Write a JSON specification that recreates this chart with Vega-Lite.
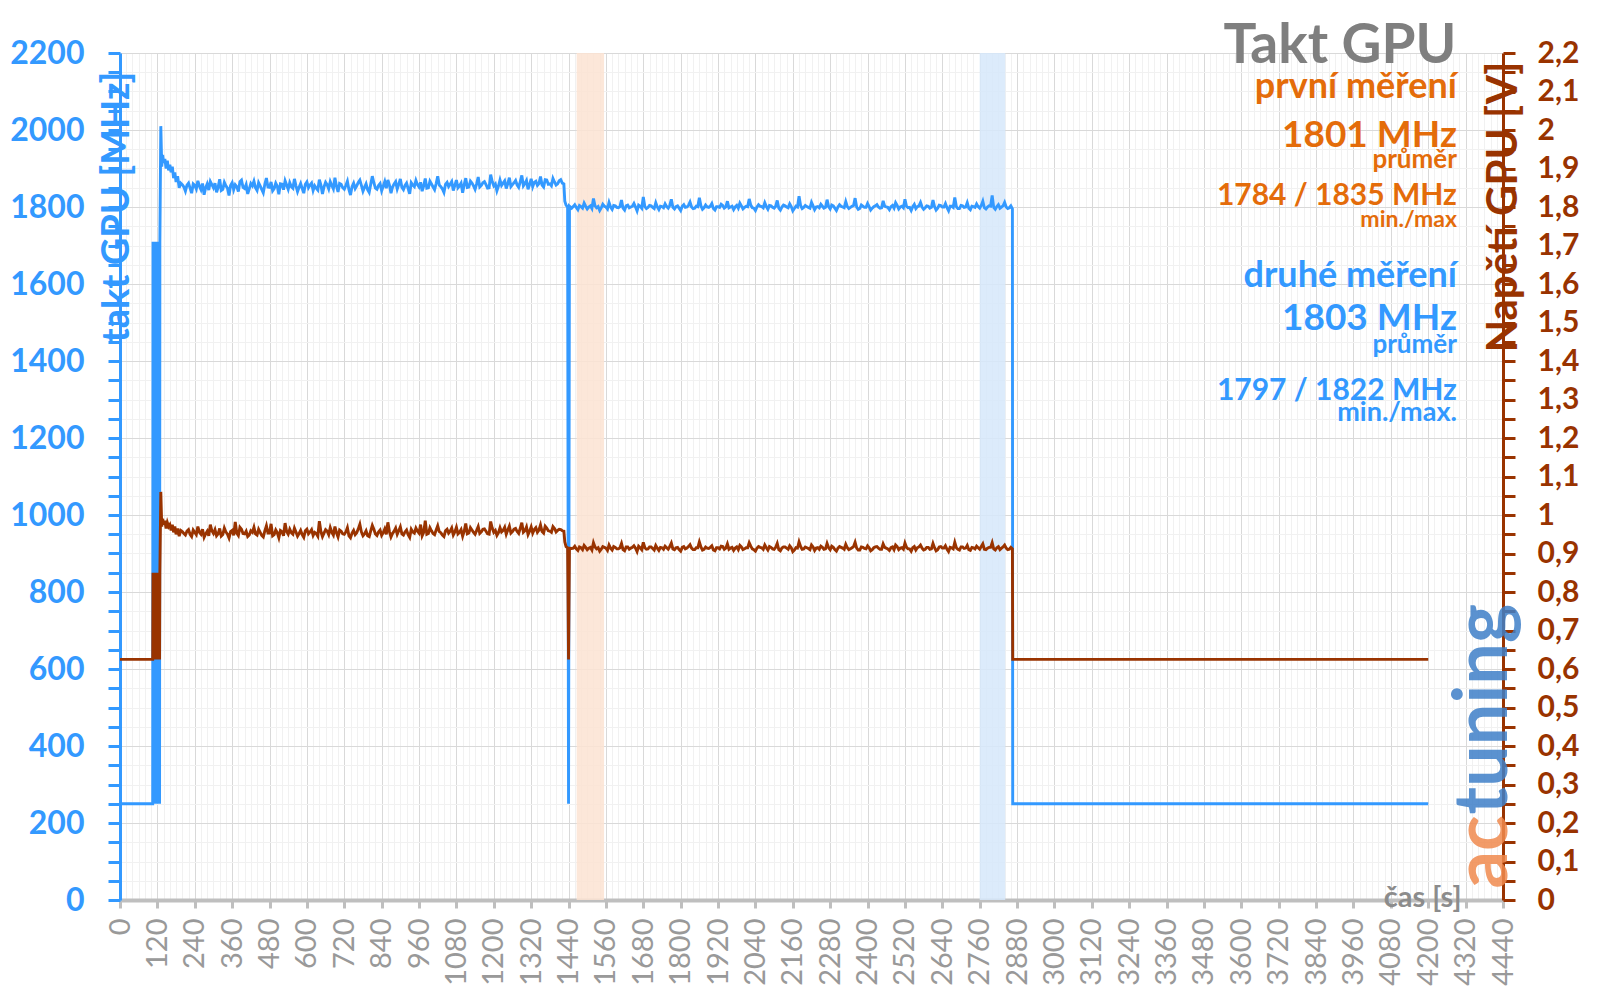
{
"$schema": "https://vega.github.io/schema/vega-lite/v6.json",
"width": 1383, "height": 847,
"autosize": {"type": "none"},
"padding": {"left": 120, "top": 53, "right": 97, "bottom": 99},
"background": "white",
"config": {"view": {"stroke": null}, "font": "Lato"},
"datasets": {
"m": [
{"t":0,"f":250,"v":0.625},{"t":105,"f":250,"v":0.625},
{"t":106,"f":1710,"v":0.85},{"t":107,"f":250,"v":0.625},{"t":108,"f":1710,"v":0.85},{"t":109,"f":250,"v":0.625},
{"t":110,"f":1710,"v":0.85},{"t":111,"f":250,"v":0.625},{"t":112,"f":1710,"v":0.85},{"t":113,"f":250,"v":0.625},
{"t":114,"f":1710,"v":0.85},{"t":115,"f":250,"v":0.625},{"t":116,"f":1710,"v":0.85},{"t":117,"f":250,"v":0.625},
{"t":118,"f":1710,"v":0.85},{"t":119,"f":250,"v":0.625},{"t":120,"f":1710,"v":0.85},{"t":121,"f":250,"v":0.625},
{"t":122,"f":1710,"v":0.85},{"t":123,"f":250,"v":0.625},{"t":124,"f":1710,"v":0.85},{"t":125,"f":250,"v":0.625},
{"t":126,"f":1710,"v":0.85},{"t":127,"f":250,"v":0.625},{"t":128,"f":1710,"v":0.85},
{"t":131,"f":2010,"v":1.06},{"t":134,"f":1905,"v":0.97},{"t":137,"f":1935,"v":0.99},{"t":140,"f":1915,"v":0.975},
{"t":144,"f":1925,"v":0.985},{"t":148,"f":1900,"v":0.965},{"t":152,"f":1920,"v":0.98},{"t":156,"f":1895,"v":0.97},
{"t":160,"f":1910,"v":0.975},{"t":164,"f":1890,"v":0.96},{"t":168,"f":1905,"v":0.975},{"t":172,"f":1875,"v":0.955},
{"t":176,"f":1890,"v":0.97},{"t":180,"f":1865,"v":0.95},{"t":185,"f":1880,"v":0.965},{"t":190,"f":1850,"v":0.945},
{"t":195,"f":1862,"v":0.96},
{"t":200,"f":1858,"v":0.957},{"t":210,"f":1841,"v":0.948},{"t":220,"f":1862,"v":0.962},{"t":230,"f":1836,"v":0.944},
{"t":240,"f":1856,"v":0.955},{"t":250,"f":1868,"v":0.970},{"t":260,"f":1845,"v":0.950},{"t":270,"f":1832,"v":0.942},
{"t":280,"f":1860,"v":0.958},{"t":290,"f":1866,"v":0.975},{"t":300,"f":1850,"v":0.952},{"t":310,"f":1838,"v":0.946},
{"t":320,"f":1872,"v":0.965},{"t":330,"f":1846,"v":0.949},{"t":340,"f":1855,"v":0.956},{"t":350,"f":1830,"v":0.940},
{"t":360,"f":1863,"v":0.960},{"t":370,"f":1858,"v":0.982},{"t":380,"f":1840,"v":0.947},{"t":390,"f":1870,"v":0.963},
{"t":400,"f":1848,"v":0.951},{"t":410,"f":1834,"v":0.944},{"t":420,"f":1861,"v":0.959},{"t":430,"f":1867,"v":0.968},
{"t":440,"f":1843,"v":0.948},{"t":450,"f":1855,"v":0.955},{"t":460,"f":1837,"v":0.943},{"t":470,"f":1875,"v":0.972},
{"t":480,"f":1851,"v":0.953},{"t":490,"f":1842,"v":0.946},{"t":500,"f":1862,"v":0.961},{"t":510,"f":1833,"v":0.941},
{"t":520,"f":1859,"v":0.957},{"t":530,"f":1868,"v":0.979},{"t":540,"f":1846,"v":0.950},{"t":550,"f":1853,"v":0.954},
{"t":560,"f":1873,"v":0.966},{"t":570,"f":1840,"v":0.945},{"t":580,"f":1861,"v":0.960},{"t":590,"f":1836,"v":0.942},
{"t":600,"f":1865,"v":0.963},{"t":610,"f":1857,"v":0.956},{"t":620,"f":1843,"v":0.947},{"t":630,"f":1849,"v":0.952},
{"t":640,"f":1871,"v":0.984},{"t":650,"f":1834,"v":0.944},{"t":660,"f":1864,"v":0.962},{"t":670,"f":1847,"v":0.949},
{"t":680,"f":1856,"v":0.955},{"t":690,"f":1876,"v":0.970},{"t":700,"f":1839,"v":0.943},{"t":710,"f":1859,"v":0.958},
{"t":720,"f":1846,"v":0.950},{"t":730,"f":1867,"v":0.967},{"t":740,"f":1831,"v":0.941},{"t":750,"f":1862,"v":0.960},
{"t":760,"f":1855,"v":0.954},{"t":770,"f":1870,"v":0.976},{"t":780,"f":1841,"v":0.946},{"t":790,"f":1860,"v":0.959},
{"t":800,"f":1838,"v":0.944},{"t":810,"f":1880,"v":0.973},{"t":820,"f":1849,"v":0.951},{"t":830,"f":1856,"v":0.956},
{"t":840,"f":1842,"v":0.947},{"t":850,"f":1866,"v":0.964},{"t":860,"f":1870,"v":0.981},{"t":870,"f":1836,"v":0.943},
{"t":880,"f":1860,"v":0.958},{"t":890,"f":1847,"v":0.950},{"t":900,"f":1873,"v":0.969},{"t":910,"f":1845,"v":0.948},
{"t":920,"f":1862,"v":0.961},{"t":930,"f":1834,"v":0.942},{"t":940,"f":1857,"v":0.956},{"t":950,"f":1869,"v":0.966},
{"t":960,"f":1852,"v":0.953},{"t":970,"f":1841,"v":0.946},{"t":980,"f":1874,"v":0.985},{"t":990,"f":1850,"v":0.952},
{"t":1000,"f":1860,"v":0.959},{"t":1010,"f":1845,"v":0.949},{"t":1020,"f":1880,"v":0.972},{"t":1030,"f":1853,"v":0.954},
{"t":1040,"f":1838,"v":0.944},{"t":1050,"f":1864,"v":0.963},{"t":1060,"f":1859,"v":0.958},{"t":1070,"f":1843,"v":0.948},
{"t":1080,"f":1870,"v":0.968},{"t":1090,"f":1855,"v":0.955},{"t":1100,"f":1837,"v":0.945},{"t":1110,"f":1875,"v":0.978},
{"t":1120,"f":1852,"v":0.953},{"t":1130,"f":1862,"v":0.961},{"t":1140,"f":1846,"v":0.950},{"t":1150,"f":1878,"v":0.970},
{"t":1160,"f":1856,"v":0.956},{"t":1170,"f":1866,"v":0.964},{"t":1180,"f":1849,"v":0.951},{"t":1190,"f":1884,"v":0.983},
{"t":1200,"f":1855,"v":0.955},{"t":1210,"f":1842,"v":0.947},{"t":1220,"f":1870,"v":0.967},{"t":1230,"f":1862,"v":0.960},
{"t":1240,"f":1848,"v":0.950},{"t":1250,"f":1876,"v":0.971},{"t":1260,"f":1858,"v":0.957},{"t":1270,"f":1869,"v":0.965},
{"t":1280,"f":1851,"v":0.952},{"t":1290,"f":1882,"v":0.980},{"t":1300,"f":1861,"v":0.959},{"t":1310,"f":1846,"v":0.949},
{"t":1320,"f":1873,"v":0.969},{"t":1330,"f":1864,"v":0.962},{"t":1340,"f":1856,"v":0.955},{"t":1350,"f":1879,"v":0.974},
{"t":1360,"f":1852,"v":0.953},{"t":1370,"f":1870,"v":0.966},{"t":1380,"f":1860,"v":0.958},{"t":1390,"f":1874,"v":0.970},
{"t":1400,"f":1857,"v":0.956},{"t":1410,"f":1868,"v":0.963},{"t":1420,"f":1862,"v":0.959},
{"t":1425,"f":1860,"v":0.958},{"t":1428,"f":1815,"v":0.930},{"t":1432,"f":1805,"v":0.918},{"t":1437,"f":1800,"v":0.915},
{"t":1440,"f":250,"v":0.625},{"t":1443,"f":1802,"v":0.914},
{"t":1450,"f":1797,"v":0.913},{"t":1460,"f":1806,"v":0.919},{"t":1470,"f":1793,"v":0.908},{"t":1480,"f":1801,"v":0.915},
{"t":1490,"f":1810,"v":0.921},{"t":1500,"f":1795,"v":0.910},{"t":1510,"f":1803,"v":0.916},{"t":1520,"f":1822,"v":0.928},
{"t":1530,"f":1798,"v":0.912},{"t":1540,"f":1791,"v":0.906},{"t":1550,"f":1807,"v":0.918},{"t":1560,"f":1800,"v":0.914},
{"t":1570,"f":1812,"v":0.922},{"t":1580,"f":1794,"v":0.909},{"t":1590,"f":1803,"v":0.916},{"t":1600,"f":1798,"v":0.912},
{"t":1610,"f":1818,"v":0.926},{"t":1620,"f":1792,"v":0.907},{"t":1630,"f":1805,"v":0.917},{"t":1640,"f":1800,"v":0.914},
{"t":1650,"f":1809,"v":0.920},{"t":1660,"f":1790,"v":0.905},{"t":1670,"f":1802,"v":0.915},{"t":1680,"f":1826,"v":0.929},
{"t":1690,"f":1796,"v":0.911},{"t":1700,"f":1804,"v":0.917},{"t":1710,"f":1799,"v":0.913},{"t":1720,"f":1811,"v":0.921},
{"t":1730,"f":1793,"v":0.908},{"t":1740,"f":1801,"v":0.915},{"t":1750,"f":1808,"v":0.919},{"t":1760,"f":1797,"v":0.911},
{"t":1770,"f":1820,"v":0.927},{"t":1780,"f":1795,"v":0.910},{"t":1790,"f":1803,"v":0.916},{"t":1800,"f":1791,"v":0.906},
{"t":1810,"f":1806,"v":0.918},{"t":1820,"f":1800,"v":0.914},{"t":1830,"f":1813,"v":0.923},{"t":1840,"f":1796,"v":0.910},
{"t":1850,"f":1802,"v":0.915},{"t":1860,"f":1824,"v":0.930},{"t":1870,"f":1794,"v":0.909},{"t":1880,"f":1805,"v":0.917},
{"t":1890,"f":1799,"v":0.913},{"t":1900,"f":1809,"v":0.920},{"t":1910,"f":1792,"v":0.907},{"t":1920,"f":1801,"v":0.915},
{"t":1930,"f":1807,"v":0.919},{"t":1940,"f":1797,"v":0.911},{"t":1950,"f":1815,"v":0.925},{"t":1960,"f":1800,"v":0.914},
{"t":1970,"f":1793,"v":0.908},{"t":1980,"f":1804,"v":0.917},{"t":1990,"f":1810,"v":0.921},{"t":2000,"f":1795,"v":0.910},
{"t":2010,"f":1802,"v":0.915},{"t":2020,"f":1821,"v":0.928},{"t":2030,"f":1798,"v":0.912},{"t":2040,"f":1791,"v":0.906},
{"t":2050,"f":1806,"v":0.918},{"t":2060,"f":1801,"v":0.915},{"t":2070,"f":1811,"v":0.922},{"t":2080,"f":1794,"v":0.909},
{"t":2090,"f":1803,"v":0.916},{"t":2100,"f":1797,"v":0.911},{"t":2110,"f":1817,"v":0.926},{"t":2120,"f":1792,"v":0.907},
{"t":2130,"f":1805,"v":0.917},{"t":2140,"f":1800,"v":0.914},{"t":2150,"f":1808,"v":0.920},{"t":2160,"f":1790,"v":0.905},
{"t":2170,"f":1802,"v":0.915},{"t":2180,"f":1828,"v":0.930},{"t":2190,"f":1796,"v":0.911},{"t":2200,"f":1804,"v":0.917},
{"t":2210,"f":1799,"v":0.913},{"t":2220,"f":1812,"v":0.922},{"t":2230,"f":1793,"v":0.908},{"t":2240,"f":1801,"v":0.915},
{"t":2250,"f":1807,"v":0.919},{"t":2260,"f":1797,"v":0.911},{"t":2270,"f":1819,"v":0.926},{"t":2280,"f":1795,"v":0.910},
{"t":2290,"f":1803,"v":0.916},{"t":2300,"f":1791,"v":0.906},{"t":2310,"f":1806,"v":0.918},{"t":2320,"f":1800,"v":0.914},
{"t":2330,"f":1814,"v":0.924},{"t":2340,"f":1796,"v":0.910},{"t":2350,"f":1802,"v":0.915},{"t":2360,"f":1823,"v":0.929},
{"t":2370,"f":1794,"v":0.909},{"t":2380,"f":1805,"v":0.917},{"t":2390,"f":1799,"v":0.913},{"t":2400,"f":1809,"v":0.920},
{"t":2410,"f":1792,"v":0.907},{"t":2420,"f":1801,"v":0.915},{"t":2430,"f":1806,"v":0.918},{"t":2440,"f":1797,"v":0.911},
{"t":2450,"f":1816,"v":0.925},{"t":2460,"f":1800,"v":0.914},{"t":2470,"f":1793,"v":0.908},{"t":2480,"f":1804,"v":0.917},
{"t":2490,"f":1811,"v":0.922},{"t":2500,"f":1795,"v":0.910},{"t":2510,"f":1802,"v":0.915},{"t":2520,"f":1820,"v":0.927},
{"t":2530,"f":1798,"v":0.912},{"t":2540,"f":1791,"v":0.906},{"t":2550,"f":1807,"v":0.918},{"t":2560,"f":1801,"v":0.915},
{"t":2570,"f":1812,"v":0.922},{"t":2580,"f":1794,"v":0.909},{"t":2590,"f":1803,"v":0.916},{"t":2600,"f":1797,"v":0.911},
{"t":2610,"f":1818,"v":0.926},{"t":2620,"f":1792,"v":0.907},{"t":2630,"f":1805,"v":0.917},{"t":2640,"f":1800,"v":0.914},
{"t":2650,"f":1809,"v":0.920},{"t":2660,"f":1790,"v":0.905},{"t":2670,"f":1802,"v":0.915},{"t":2680,"f":1825,"v":0.929},
{"t":2690,"f":1796,"v":0.911},{"t":2700,"f":1804,"v":0.917},{"t":2710,"f":1799,"v":0.913},{"t":2720,"f":1811,"v":0.921},
{"t":2730,"f":1793,"v":0.908},{"t":2740,"f":1801,"v":0.915},{"t":2750,"f":1808,"v":0.919},{"t":2760,"f":1797,"v":0.911},
{"t":2770,"f":1815,"v":0.925},{"t":2780,"f":1795,"v":0.910},{"t":2790,"f":1803,"v":0.916},{"t":2800,"f":1830,"v":0.928},
{"t":2810,"f":1794,"v":0.909},{"t":2820,"f":1806,"v":0.918},{"t":2830,"f":1800,"v":0.914},{"t":2840,"f":1812,"v":0.922},
{"t":2850,"f":1796,"v":0.910},{"t":2860,"f":1803,"v":0.916},
{"t":2865,"f":1795,"v":0.912},{"t":2866,"f":250,"v":0.625},{"t":4200,"f":250,"v":0.625},
{"t":205,"f":1852,"v":0.952},{"t":215,"f":1857,"v":0.958},{"t":225,"f":1849,"v":0.950},{"t":235,"f":1860,"v":0.961},{"t":245,"f":1847,"v":0.949},
{"t":255,"f":1854,"v":0.955},{"t":265,"f":1861,"v":0.963},{"t":275,"f":1850,"v":0.951},{"t":285,"f":1844,"v":0.946},{"t":295,"f":1858,"v":0.959},
{"t":305,"f":1862,"v":0.962},{"t":315,"f":1851,"v":0.951},{"t":325,"f":1843,"v":0.945},{"t":335,"f":1864,"v":0.966},{"t":345,"f":1849,"v":0.950},
{"t":355,"f":1856,"v":0.957},{"t":365,"f":1845,"v":0.947},{"t":375,"f":1853,"v":0.953},{"t":385,"f":1866,"v":0.968},{"t":395,"f":1851,"v":0.952},
{"t":405,"f":1858,"v":0.958},{"t":415,"f":1847,"v":0.948},{"t":425,"f":1855,"v":0.955},{"t":435,"f":1850,"v":0.951},{"t":445,"f":1863,"v":0.963},
{"t":455,"f":1846,"v":0.947},{"t":465,"f":1859,"v":0.959},{"t":475,"f":1852,"v":0.953},{"t":485,"f":1865,"v":0.977},{"t":495,"f":1848,"v":0.949},
{"t":505,"f":1854,"v":0.954},{"t":515,"f":1860,"v":0.960},{"t":525,"f":1845,"v":0.946},{"t":535,"f":1857,"v":0.957},{"t":545,"f":1863,"v":0.963},
{"t":555,"f":1849,"v":0.950},{"t":565,"f":1855,"v":0.956},{"t":575,"f":1851,"v":0.952},{"t":585,"f":1848,"v":0.949},{"t":595,"f":1859,"v":0.959},
{"t":605,"f":1850,"v":0.951},{"t":615,"f":1862,"v":0.962},{"t":625,"f":1855,"v":0.955},{"t":635,"f":1844,"v":0.945},{"t":645,"f":1857,"v":0.957},
{"t":655,"f":1852,"v":0.953},{"t":665,"f":1858,"v":0.958},{"t":675,"f":1866,"v":0.967},{"t":685,"f":1847,"v":0.948},{"t":695,"f":1854,"v":0.954},
{"t":705,"f":1861,"v":0.961},{"t":715,"f":1850,"v":0.951},{"t":725,"f":1856,"v":0.956},{"t":735,"f":1845,"v":0.946},{"t":745,"f":1853,"v":0.953},
{"t":755,"f":1848,"v":0.949},{"t":765,"f":1864,"v":0.964},{"t":775,"f":1856,"v":0.956},{"t":785,"f":1851,"v":0.951},{"t":795,"f":1845,"v":0.946},
{"t":805,"f":1859,"v":0.959},{"t":815,"f":1863,"v":0.963},{"t":825,"f":1846,"v":0.947},{"t":835,"f":1861,"v":0.961},{"t":845,"f":1854,"v":0.954},
{"t":855,"f":1849,"v":0.950},{"t":865,"f":1857,"v":0.957},{"t":875,"f":1852,"v":0.952},{"t":885,"f":1866,"v":0.966},{"t":895,"f":1859,"v":0.959},
{"t":905,"f":1851,"v":0.951},{"t":915,"f":1856,"v":0.956},{"t":925,"f":1848,"v":0.949},{"t":935,"f":1863,"v":0.963},{"t":945,"f":1853,"v":0.953},
{"t":955,"f":1858,"v":0.958},{"t":965,"f":1864,"v":0.975},{"t":975,"f":1855,"v":0.955},{"t":985,"f":1849,"v":0.950},{"t":995,"f":1867,"v":0.967},
{"t":1005,"f":1852,"v":0.952},{"t":1015,"f":1861,"v":0.961},{"t":1025,"f":1857,"v":0.957},{"t":1035,"f":1847,"v":0.948},{"t":1045,"f":1859,"v":0.959},
{"t":1055,"f":1853,"v":0.953},{"t":1065,"f":1866,"v":0.966},{"t":1075,"f":1856,"v":0.956},{"t":1085,"f":1850,"v":0.951},{"t":1095,"f":1862,"v":0.962},
{"t":1105,"f":1858,"v":0.958},{"t":1115,"f":1851,"v":0.951},{"t":1125,"f":1867,"v":0.967},{"t":1135,"f":1855,"v":0.955},{"t":1145,"f":1860,"v":0.960},
{"t":1155,"f":1852,"v":0.952},{"t":1165,"f":1863,"v":0.963},{"t":1175,"f":1858,"v":0.958},{"t":1185,"f":1850,"v":0.950},{"t":1195,"f":1866,"v":0.966},
{"t":1205,"f":1860,"v":0.960},{"t":1215,"f":1854,"v":0.954},{"t":1225,"f":1856,"v":0.956},{"t":1235,"f":1868,"v":0.968},{"t":1245,"f":1861,"v":0.961},
{"t":1255,"f":1853,"v":0.953},{"t":1265,"f":1863,"v":0.963},{"t":1275,"f":1857,"v":0.957},{"t":1285,"f":1866,"v":0.966},{"t":1295,"f":1855,"v":0.955},
{"t":1305,"f":1869,"v":0.969},{"t":1315,"f":1858,"v":0.958},{"t":1325,"f":1853,"v":0.953},{"t":1335,"f":1867,"v":0.967},{"t":1345,"f":1861,"v":0.961},
{"t":1355,"f":1857,"v":0.957},{"t":1365,"f":1871,"v":0.971},{"t":1375,"f":1859,"v":0.959},{"t":1385,"f":1855,"v":0.955},{"t":1395,"f":1865,"v":0.965},
{"t":1405,"f":1860,"v":0.960},{"t":1415,"f":1871,"v":0.962},
{"t":1455,"f":1801,"v":0.914},{"t":1465,"f":1799,"v":0.912},{"t":1475,"f":1804,"v":0.917},{"t":1485,"f":1797,"v":0.910},{"t":1495,"f":1802,"v":0.916},
{"t":1505,"f":1800,"v":0.914},{"t":1515,"f":1796,"v":0.909},{"t":1525,"f":1803,"v":0.917},{"t":1535,"f":1801,"v":0.915},{"t":1545,"f":1798,"v":0.911},
{"t":1555,"f":1802,"v":0.916},{"t":1565,"f":1795,"v":0.908},{"t":1575,"f":1800,"v":0.914},{"t":1585,"f":1804,"v":0.918},{"t":1595,"f":1799,"v":0.912},
{"t":1605,"f":1801,"v":0.915},{"t":1615,"f":1797,"v":0.910},{"t":1625,"f":1803,"v":0.917},{"t":1635,"f":1798,"v":0.911},{"t":1645,"f":1802,"v":0.916},
{"t":1655,"f":1800,"v":0.914},{"t":1665,"f":1805,"v":0.919},{"t":1675,"f":1797,"v":0.910},{"t":1685,"f":1801,"v":0.915},{"t":1695,"f":1799,"v":0.912},
{"t":1705,"f":1803,"v":0.917},{"t":1715,"f":1796,"v":0.909},{"t":1725,"f":1800,"v":0.914},{"t":1735,"f":1802,"v":0.916},{"t":1745,"f":1798,"v":0.911},
{"t":1755,"f":1801,"v":0.915},{"t":1765,"f":1804,"v":0.918},{"t":1775,"f":1799,"v":0.912},{"t":1785,"f":1801,"v":0.915},{"t":1795,"f":1797,"v":0.910},
{"t":1805,"f":1802,"v":0.916},{"t":1815,"f":1799,"v":0.912},{"t":1825,"f":1804,"v":0.918},{"t":1835,"f":1800,"v":0.914},{"t":1845,"f":1797,"v":0.910},
{"t":1855,"f":1801,"v":0.915},{"t":1865,"f":1803,"v":0.917},{"t":1875,"f":1798,"v":0.911},{"t":1885,"f":1800,"v":0.914},{"t":1895,"f":1802,"v":0.916},
{"t":1905,"f":1796,"v":0.909},{"t":1915,"f":1801,"v":0.915},{"t":1925,"f":1799,"v":0.912},{"t":1935,"f":1804,"v":0.918},{"t":1945,"f":1800,"v":0.914},
{"t":1955,"f":1798,"v":0.911},{"t":1965,"f":1802,"v":0.916},{"t":1975,"f":1800,"v":0.914},{"t":1985,"f":1797,"v":0.910},{"t":1995,"f":1803,"v":0.917},
{"t":2005,"f":1799,"v":0.912},{"t":2015,"f":1801,"v":0.915},{"t":2025,"f":1805,"v":0.919},{"t":2035,"f":1797,"v":0.910},{"t":2045,"f":1800,"v":0.914},
{"t":2055,"f":1802,"v":0.916},{"t":2065,"f":1798,"v":0.911},{"t":2075,"f":1801,"v":0.915},{"t":2085,"f":1804,"v":0.918},{"t":2095,"f":1799,"v":0.912},
{"t":2105,"f":1802,"v":0.916},{"t":2115,"f":1797,"v":0.910},{"t":2125,"f":1800,"v":0.914},{"t":2135,"f":1803,"v":0.917},{"t":2145,"f":1798,"v":0.911},
{"t":2155,"f":1801,"v":0.915},{"t":2165,"f":1796,"v":0.909},{"t":2175,"f":1800,"v":0.914},{"t":2185,"f":1804,"v":0.918},{"t":2195,"f":1799,"v":0.912},
{"t":2205,"f":1801,"v":0.915},{"t":2215,"f":1797,"v":0.910},{"t":2225,"f":1803,"v":0.917},{"t":2235,"f":1800,"v":0.914},{"t":2245,"f":1798,"v":0.911},
{"t":2255,"f":1802,"v":0.916},{"t":2265,"f":1799,"v":0.912},{"t":2275,"f":1801,"v":0.915},{"t":2285,"f":1805,"v":0.919},{"t":2295,"f":1797,"v":0.910},
{"t":2305,"f":1800,"v":0.914},{"t":2315,"f":1802,"v":0.916},{"t":2325,"f":1798,"v":0.911},{"t":2335,"f":1801,"v":0.915},{"t":2345,"f":1799,"v":0.912},
{"t":2355,"f":1804,"v":0.918},{"t":2365,"f":1800,"v":0.914},{"t":2375,"f":1796,"v":0.909},{"t":2385,"f":1802,"v":0.916},{"t":2395,"f":1799,"v":0.912},
{"t":2405,"f":1801,"v":0.915},{"t":2415,"f":1797,"v":0.910},{"t":2425,"f":1803,"v":0.917},{"t":2435,"f":1800,"v":0.914},{"t":2445,"f":1798,"v":0.911},
{"t":2455,"f":1802,"v":0.916},{"t":2465,"f":1799,"v":0.912},{"t":2475,"f":1801,"v":0.915},{"t":2485,"f":1797,"v":0.910},{"t":2495,"f":1804,"v":0.918},
{"t":2505,"f":1800,"v":0.914},{"t":2515,"f":1798,"v":0.911},{"t":2525,"f":1802,"v":0.916},{"t":2535,"f":1799,"v":0.912},{"t":2545,"f":1801,"v":0.915},
{"t":2555,"f":1796,"v":0.909},{"t":2565,"f":1803,"v":0.917},{"t":2575,"f":1800,"v":0.914},{"t":2585,"f":1798,"v":0.911},{"t":2595,"f":1802,"v":0.916},
{"t":2605,"f":1799,"v":0.912},{"t":2615,"f":1801,"v":0.915},{"t":2625,"f":1797,"v":0.910},{"t":2635,"f":1804,"v":0.918},{"t":2645,"f":1800,"v":0.914},
{"t":2655,"f":1798,"v":0.911},{"t":2665,"f":1802,"v":0.916},{"t":2675,"f":1799,"v":0.912},{"t":2685,"f":1801,"v":0.915},{"t":2695,"f":1796,"v":0.909},
{"t":2705,"f":1803,"v":0.917},{"t":2715,"f":1800,"v":0.914},{"t":2725,"f":1797,"v":0.910},{"t":2735,"f":1802,"v":0.916},{"t":2745,"f":1799,"v":0.912},
{"t":2755,"f":1801,"v":0.915},{"t":2765,"f":1804,"v":0.918},{"t":2775,"f":1798,"v":0.911},{"t":2785,"f":1800,"v":0.914},{"t":2795,"f":1802,"v":0.916},
{"t":2805,"f":1799,"v":0.912},{"t":2815,"f":1801,"v":0.915},{"t":2825,"f":1797,"v":0.910},{"t":2835,"f":1803,"v":0.917},{"t":2845,"f":1800,"v":0.914},
{"t":2855,"f":1798,"v":0.911}
]
},
"layer": [
{
"layer": [
{
"data": {"values": [{"s":1466,"e":1554,"m":"první"},{"s":2760,"e":2842,"m":"druhé"}]},
"mark": {"type": "rect", "opacity": 0.85},
"encoding": {
"x": {"field": "s", "type": "quantitative", "scale": {"domain": [0,4440], "nice": false}},
"x2": {"field": "e"},
"color": {"field": "m", "type": "nominal", "scale": {"domain": ["první","druhé"], "range": ["#FBE3D2","#D6E7FA"]}, "legend": null}
}
},
{
"data": {"name": "m"},
"mark": {"type": "line", "color": "#3399FF", "strokeWidth": 2.9},
"encoding": {
"x": {"field": "t", "type": "quantitative", "scale": {"domain": [0,4440], "nice": false},
"axis": {"tickCount": 222, "format": "d", "labelExpr": "datum.value % 120 === 0 ? datum.label : ''",
"labelAngle": 270, "labelAlign": "right", "labelBaseline": "middle", "labelFont": "Lato", "labelFontSize": 29,
"labelColor": "#999999", "labelPadding": 10, "labelOverlap": false, "labelFlush": false,
"tickSize": 8, "tickWidth": 3, "tickColor": "#BFBFBF",
"tickOpacity": {"condition": {"test": "datum.value % 120 === 0", "value": 1}, "value": 0},
"domainColor": "#BFBFBF", "domainWidth": 4,
"grid": true, "gridWidth": 1,
"gridColor": {"condition": {"test": "datum.value % 120 === 0", "value": "#D9D9D9"}, "value": "#F1F1F1"},
"title": "čas [s]", "titleFont": "Lato", "titleFontSize": 29, "titleFontWeight": "bold", "titleColor": "#8C8C8C",
"titleAlign": "right", "titleBaseline": "alphabetic", "titleAngle": 0, "titleX": 1341, "titleY": 6}},
"y": {"field": "f", "type": "quantitative", "scale": {"domain": [0,2200], "nice": false},
"axis": {"tickCount": 44, "format": "d", "labelExpr": "datum.value % 200 === 0 ? datum.label : ''",
"labelFont": "Lato", "labelFontWeight": "bold", "labelFontSize": 32, "labelColor": "#3399FF", "labelPadding": 24,
"labelOverlap": false, "labelBaseline": "middle",
"tickSize": 12, "tickWidth": 3, "tickColor": "#3399FF", "domainColor": "#3399FF", "domainWidth": 3,
"grid": true, "gridWidth": 1,
"gridColor": {"condition": {"test": "datum.value % 200 === 0", "value": "#D9D9D9"}, "value": "#F1F1F1"},
"title": "takt GPU [MHz]", "titleFont": "Lato", "titleFontSize": 38, "titleFontWeight": "bold", "titleColor": "#3399FF",
"titleAngle": 270, "titleAlign": "right", "titleBaseline": "alphabetic", "titleX": 8, "titleY": 18}}
}
},
{
"data": {"values": [{"label":"ac","t":4452,"y":30}]},
"mark": {"type": "text", "align": "left", "baseline": "alphabetic", "angle": 270, "font": "Lato", "fontWeight": "bold", "fontSize": 74, "color": "#F08A4E", "opacity": 0.85},
"encoding": {"x": {"field": "t", "type": "quantitative", "scale": {"domain": [0,4440], "nice": false}}, "y": {"field": "y", "type": "quantitative", "scale": {"domain": [0,2200], "nice": false}}, "text": {"field": "label"}}
},
{
"data": {"values": [{"label":"tuning","t":4452,"y":222}]},
"mark": {"type": "text", "align": "left", "baseline": "alphabetic", "angle": 270, "font": "Lato", "fontWeight": "bold", "fontSize": 74, "color": "#3F80C8", "opacity": 0.85},
"encoding": {"x": {"field": "t", "type": "quantitative", "scale": {"domain": [0,4440], "nice": false}}, "y": {"field": "y", "type": "quantitative", "scale": {"domain": [0,2200], "nice": false}}, "text": {"field": "label"}}
},
{
"data": {"values": [{"label":"Takt GPU","t":4290,"y":2173}]},
"mark": {"type": "text", "align": "right", "baseline": "alphabetic", "font": "Lato", "fontWeight": "bold", "fontSize": 55, "color": "#7F7F7F"},
"encoding": {"x": {"field": "t", "type": "quantitative", "scale": {"domain": [0,4440], "nice": false}}, "y": {"field": "y", "type": "quantitative", "scale": {"domain": [0,2200], "nice": false}}, "text": {"field": "label"}}
},
{
"data": {"values": [{"label":"první měření","t":4292,"y":2083}]},
"mark": {"type": "text", "align": "right", "baseline": "alphabetic", "font": "Lato", "fontWeight": "bold", "fontSize": 36, "color": "#E46C0A"},
"encoding": {"x": {"field": "t", "type": "quantitative", "scale": {"domain": [0,4440], "nice": false}}, "y": {"field": "y", "type": "quantitative", "scale": {"domain": [0,2200], "nice": false}}, "text": {"field": "label"}}
},
{
"data": {"values": [{"label":"1801 MHz","t":4292,"y":1956}]},
"mark": {"type": "text", "align": "right", "baseline": "alphabetic", "font": "Lato", "fontWeight": "bold", "fontSize": 37, "color": "#E46C0A"},
"encoding": {"x": {"field": "t", "type": "quantitative", "scale": {"domain": [0,4440], "nice": false}}, "y": {"field": "y", "type": "quantitative", "scale": {"domain": [0,2200], "nice": false}}, "text": {"field": "label"}}
},
{
"data": {"values": [{"label":"průměr","t":4292,"y":1902}]},
"mark": {"type": "text", "align": "right", "baseline": "alphabetic", "font": "Lato", "fontWeight": "bold", "fontSize": 26, "color": "#E46C0A"},
"encoding": {"x": {"field": "t", "type": "quantitative", "scale": {"domain": [0,4440], "nice": false}}, "y": {"field": "y", "type": "quantitative", "scale": {"domain": [0,2200], "nice": false}}, "text": {"field": "label"}}
},
{
"data": {"values": [{"label":"min./max","t":4292,"y":1748}]},
"mark": {"type": "text", "align": "right", "baseline": "alphabetic", "font": "Lato", "fontWeight": "bold", "fontSize": 23, "color": "#E46C0A"},
"encoding": {"x": {"field": "t", "type": "quantitative", "scale": {"domain": [0,4440], "nice": false}}, "y": {"field": "y", "type": "quantitative", "scale": {"domain": [0,2200], "nice": false}}, "text": {"field": "label"}}
},
{
"data": {"values": [{"label":"1784 / 1835 MHz","t":4292,"y":1805}]},
"mark": {"type": "text", "align": "right", "baseline": "alphabetic", "font": "Lato", "fontWeight": "bold", "fontSize": 30, "color": "#E46C0A"},
"encoding": {"x": {"field": "t", "type": "quantitative", "scale": {"domain": [0,4440], "nice": false}}, "y": {"field": "y", "type": "quantitative", "scale": {"domain": [0,2200], "nice": false}}, "text": {"field": "label"}}
},
{
"data": {"values": [{"label":"druhé měření","t":4292,"y":1592}]},
"mark": {"type": "text", "align": "right", "baseline": "alphabetic", "font": "Lato", "fontWeight": "bold", "fontSize": 36, "color": "#3399FF"},
"encoding": {"x": {"field": "t", "type": "quantitative", "scale": {"domain": [0,4440], "nice": false}}, "y": {"field": "y", "type": "quantitative", "scale": {"domain": [0,2200], "nice": false}}, "text": {"field": "label"}}
},
{
"data": {"values": [{"label":"1803 MHz","t":4292,"y":1481}]},
"mark": {"type": "text", "align": "right", "baseline": "alphabetic", "font": "Lato", "fontWeight": "bold", "fontSize": 37, "color": "#3399FF"},
"encoding": {"x": {"field": "t", "type": "quantitative", "scale": {"domain": [0,4440], "nice": false}}, "y": {"field": "y", "type": "quantitative", "scale": {"domain": [0,2200], "nice": false}}, "text": {"field": "label"}}
},
{
"data": {"values": [{"label":"průměr","t":4292,"y":1421}]},
"mark": {"type": "text", "align": "right", "baseline": "alphabetic", "font": "Lato", "fontWeight": "bold", "fontSize": 26, "color": "#3399FF"},
"encoding": {"x": {"field": "t", "type": "quantitative", "scale": {"domain": [0,4440], "nice": false}}, "y": {"field": "y", "type": "quantitative", "scale": {"domain": [0,2200], "nice": false}}, "text": {"field": "label"}}
},
{
"data": {"values": [{"label":"min./max.","t":4292,"y":1244}]},
"mark": {"type": "text", "align": "right", "baseline": "alphabetic", "font": "Lato", "fontWeight": "bold", "fontSize": 27, "color": "#3399FF"},
"encoding": {"x": {"field": "t", "type": "quantitative", "scale": {"domain": [0,4440], "nice": false}}, "y": {"field": "y", "type": "quantitative", "scale": {"domain": [0,2200], "nice": false}}, "text": {"field": "label"}}
},
{
"data": {"values": [{"label":"1797 / 1822 MHz","t":4292,"y":1299}]},
"mark": {"type": "text", "align": "right", "baseline": "alphabetic", "font": "Lato", "fontWeight": "bold", "fontSize": 30, "color": "#3399FF"},
"encoding": {"x": {"field": "t", "type": "quantitative", "scale": {"domain": [0,4440], "nice": false}}, "y": {"field": "y", "type": "quantitative", "scale": {"domain": [0,2200], "nice": false}}, "text": {"field": "label"}}
}
]
},
{
"data": {"name": "m"},
"mark": {"type": "line", "color": "#993300", "strokeWidth": 2.9},
"encoding": {
"x": {"field": "t", "type": "quantitative", "scale": {"domain": [0,4440], "nice": false}},
"y": {"field": "v", "type": "quantitative", "scale": {"domain": [0,2.2], "nice": false},
"axis": {"orient": "right", "tickCount": 44,
"labelExpr": "abs(datum.value*10 - round(datum.value*10)) < 0.001 ? replace(format(datum.value, '.1~f'), '.', ',') : ''",
"labelFont": "Lato", "labelFontWeight": "bold", "labelFontSize": 30, "labelColor": "#993300", "labelPadding": 22,
"labelOverlap": false, "labelBaseline": "middle",
"tickSize": 12, "tickWidth": 3, "tickColor": "#993300", "domainColor": "#993300", "domainWidth": 3,
"grid": false,
"title": "Napětí GPU [V]", "titleFont": "Lato", "titleFontSize": 42, "titleFontWeight": "bold", "titleColor": "#993300",
"titleAngle": 270, "titleAlign": "right", "titleBaseline": "alphabetic", "titleX": 13, "titleY": 8}}
}
}
],
"resolve": {"scale": {"y": "independent"}}
}
